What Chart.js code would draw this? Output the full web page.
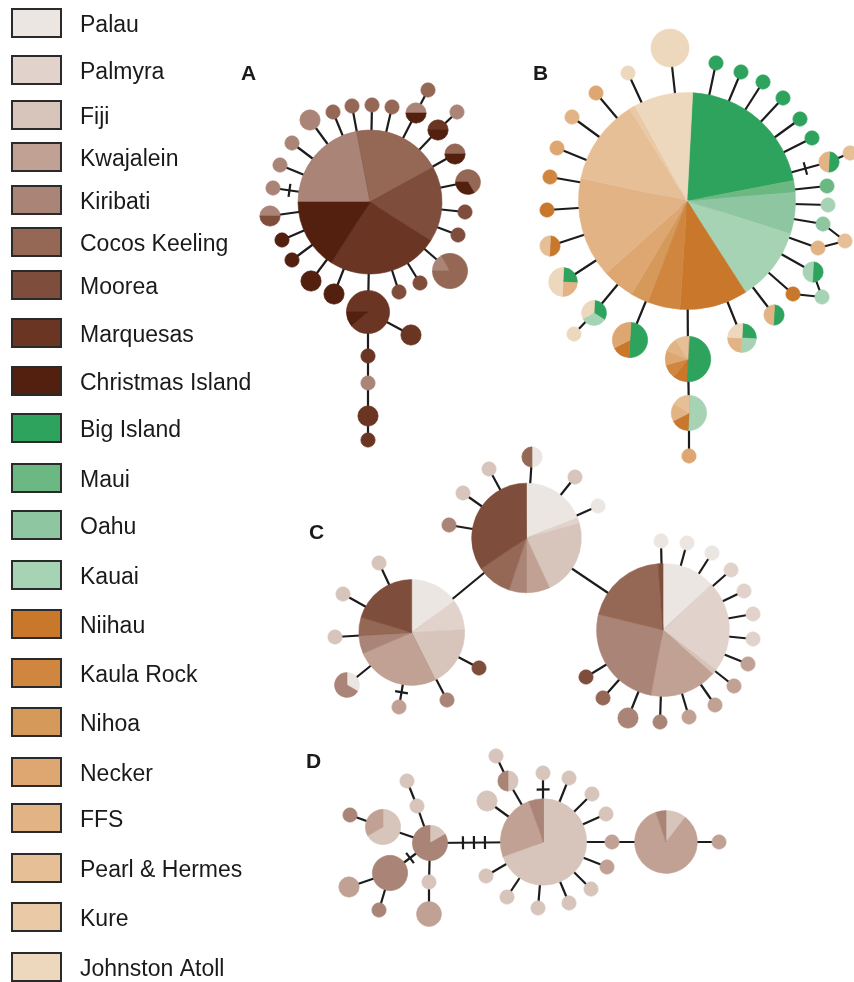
<!DOCTYPE html>
<html>
<head>
<meta charset="utf-8">
<script src="https://cdn.jsdelivr.net/npm/chart.js@4.4.1/dist/chart.umd.min.js"></script>
<style>
html, body { margin: 0; padding: 0; background: #fff; overflow: hidden; }
#chart { display: block; }
</style>
</head>
<body>
<canvas id="chart" width="854" height="982"></canvas>
<script>
// populations, legend order (slices follow this order too)
const popCodes = ['PAL','PMY','FIJ','KWA','KIR','COC','MOO','MAR','CHR','BIG','MAU','OAH','KAI','NII','KAR','NIH','NEC','FFS','PHR','KUR','JOH'];
const popNames = ['Palau','Palmyra','Fiji','Kwajalein','Kiribati','Cocos Keeling','Moorea','Marquesas','Christmas Island','Big Island','Maui','Oahu','Kauai','Niihau','Kaula Rock','Nihoa','Necker','FFS','Pearl & Hermes','Kure','Johnston Atoll'];
const popColors = ['#ebe6e2','#e1d3cc','#d7c5bb','#c1a193','#aa8476','#956755','#7e4d3b','#6a3523','#532010',
                   '#2ea35d','#6bb883','#8dc6a0','#a6d3b3',
                   '#c9772b','#d0863f','#d59a5a','#dea671','#e2b385','#e6bf97','#eac9a7','#eed8bd'];

// haplotypes: [id, x, y, individuals per population]
const nodesA = [
  ['A0', 370, 202, {KIR:22, COC:20, MOO:17, MAR:25, CHR:16}],
  ['A1', 273, 188, {KIR:1}], ['A2', 280, 165, {KIR:1}], ['A3', 292, 143, {KIR:1}],
  ['A4', 310, 120, {KIR:2}], ['A5', 333, 112, {COC:1}], ['A6', 352, 106, {COC:1}],
  ['A7', 372, 105, {COC:1}], ['A8', 392, 107, {COC:1}], ['A9', 416, 113, {KIR:1, CHR:1}],
  ['A10', 428, 90, {COC:1}], ['A11', 438, 130, {MAR:1, CHR:1}], ['A12', 457, 112, {KIR:1}],
  ['A13', 455, 154, {COC:1, CHR:1}], ['A14', 468, 182, {COC:2, CHR:1}], ['A15', 465, 212, {MOO:1}],
  ['A16', 458, 235, {MOO:1}], ['A17', 450, 271, {KIR:1, COC:5}], ['A18', 420, 283, {MOO:1}],
  ['A19', 399, 292, {MOO:1}], ['A20', 368, 312, {MAR:8, CHR:1}], ['A21', 411, 335, {MAR:2}],
  ['A22', 368, 356, {MAR:1}], ['A23', 368, 383, {KIR:1}], ['A24', 368, 416, {MAR:2}],
  ['A25', 368, 440, {MAR:1}], ['A26', 334, 294, {CHR:2}], ['A27', 311, 281, {CHR:2}],
  ['A28', 292, 260, {CHR:1}], ['A29', 282, 240, {CHR:1}], ['A30', 270, 216, {KIR:1, MOO:1}]
];
const edgesA = [
  ['A0','A1',1], ['A0','A2'], ['A0','A3'], ['A0','A4'], ['A0','A5'], ['A0','A6'], ['A0','A7'], ['A0','A8'],
  ['A0','A9'], ['A9','A10'], ['A0','A11'], ['A11','A12'], ['A0','A13'], ['A0','A14'], ['A0','A15'],
  ['A0','A16'], ['A0','A17'], ['A0','A18'], ['A0','A19'], ['A0','A20'], ['A20','A21'], ['A20','A22'],
  ['A22','A23'], ['A23','A24'], ['A24','A25'], ['A0','A26'], ['A0','A27'], ['A0','A28'], ['A0','A29'], ['A0','A30']
];

const nodesB = [
  ['B0', 687, 201, {BIG:48, MAU:4, OAH:14, KAI:25, NII:23, KAR:11, NIH:6, NEC:11, FFS:34, PHR:29, KUR:2, JOH:20}],
  ['B1', 670, 48, {JOH:7}], ['B2', 628, 73, {JOH:1}], ['B3', 596, 93, {NEC:1}], ['B4', 572, 117, {FFS:1}],
  ['B5', 557, 148, {NEC:1}], ['B6', 550, 177, {KAR:1}], ['B7', 547, 210, {NII:1}], ['B8', 550, 246, {NII:1, PHR:1}],
  ['B9', 563, 282, {BIG:1, FFS:1, JOH:2}], ['B10', 716, 63, {BIG:1}], ['B11', 741, 72, {BIG:1}],
  ['B12', 763, 82, {BIG:1}], ['B13', 783, 98, {BIG:1}], ['B14', 800, 119, {BIG:1}], ['B15', 812, 138, {BIG:1}],
  ['B16', 829, 162, {BIG:1, FFS:1}], ['B17', 850, 153, {PHR:1}], ['B18', 827, 186, {MAU:1}],
  ['B19', 828, 205, {KAI:1}], ['B20', 823, 224, {OAH:1}], ['B21', 845, 241, {PHR:1}], ['B22', 818, 248, {FFS:1}],
  ['B23', 813, 272, {BIG:1, KAI:1}], ['B24', 793, 294, {NII:1}], ['B25', 822, 297, {KAI:1}],
  ['B26', 594, 313, {BIG:1, KAI:1, JOH:1}], ['B27', 574, 334, {JOH:1}], ['B28', 630, 340, {BIG:3, NII:1, NEC:2}],
  ['B29', 688, 359, {BIG:5, NII:1, KAR:1, NEC:1, FFS:1, PHR:1}], ['B30', 689, 413, {KAI:3, NII:1, FFS:1, PHR:1}],
  ['B31', 689, 456, {NEC:1}], ['B32', 742, 338, {BIG:1, KAI:1, FFS:1, JOH:1}], ['B33', 774, 315, {BIG:1, FFS:1}]
];
const edgesB = [
  ['B0','B1'], ['B0','B2'], ['B0','B3'], ['B0','B4'], ['B0','B5'], ['B0','B6'], ['B0','B7'], ['B0','B8'], ['B0','B9'],
  ['B0','B10'], ['B0','B11'], ['B0','B12'], ['B0','B13'], ['B0','B14'], ['B0','B15'], ['B0','B16',1], ['B16','B17'],
  ['B0','B18'], ['B0','B19'], ['B0','B20'], ['B20','B21'], ['B0','B22'], ['B22','B21'], ['B0','B23'], ['B23','B25'],
  ['B0','B24'], ['B24','B25'], ['B0','B26'], ['B26','B27'], ['B0','B28'], ['B0','B29'], ['B29','B30'], ['B30','B31'],
  ['B0','B32'], ['B0','B33']
];

const nodesC = [
  ['C0', 526.5, 538, {PAL:11, PMY:1, FIJ:13, KWA:4, KIR:3, COC:6, MOO:20}],
  ['C1', 411.7, 632.5, {PAL:8, PMY:5, FIJ:10, KWA:14, KIR:3, COC:3, MOO:11}],
  ['C2', 663, 630, {PAL:11, PMY:19, FIJ:1, KWA:14, KIR:22, COC:17, MOO:1}],
  ['C3', 532, 457, {PAL:1, COC:1}], ['C4', 489, 469, {FIJ:1}], ['C5', 463, 493, {FIJ:1}], ['C6', 449, 525, {KIR:1}],
  ['C7', 575, 477, {FIJ:1}], ['C8', 598, 506, {PAL:1}],
  ['C9', 379, 563, {FIJ:1}], ['C10', 343, 594, {FIJ:1}], ['C11', 335, 637, {FIJ:1}], ['C12', 347, 685, {PAL:1, KIR:2}],
  ['C13', 399, 707, {KWA:1}], ['C14', 447, 700, {KIR:1}], ['C15', 479, 668, {MOO:1}],
  ['C16', 661, 541, {PAL:1}], ['C17', 687, 543, {PAL:1}], ['C18', 712, 553, {PAL:1}], ['C19', 731, 570, {PMY:1}],
  ['C20', 744, 591, {PMY:1}], ['C21', 753, 614, {PMY:1}], ['C22', 753, 639, {PMY:1}], ['C23', 748, 664, {KWA:1}],
  ['C24', 734, 686, {KWA:1}], ['C25', 715, 705, {KWA:1}], ['C26', 689, 717, {KWA:1}], ['C27', 660, 722, {KIR:1}],
  ['C28', 628, 718, {KIR:2}], ['C29', 603, 698, {COC:1}], ['C30', 586, 677, {MOO:1}]
];
const edgesC = [
  ['C0','C1'], ['C0','C2'], ['C0','C3'], ['C0','C4'], ['C0','C5'], ['C0','C6'], ['C0','C7'], ['C0','C8'],
  ['C1','C9'], ['C1','C10'], ['C1','C11'], ['C1','C12'], ['C1','C13',1], ['C1','C14'], ['C1','C15'],
  ['C2','C16'], ['C2','C17'], ['C2','C18'], ['C2','C19'], ['C2','C20'], ['C2','C21'], ['C2','C22'], ['C2','C23'],
  ['C2','C24'], ['C2','C25'], ['C2','C26'], ['C2','C27'], ['C2','C28'], ['C2','C29'], ['C2','C30']
];

const nodesD = [
  ['D0', 543.5, 842, {FIJ:25, KWA:9, KIR:2}],
  ['D1', 543, 773, {FIJ:1}], ['D2', 569, 778, {FIJ:1}], ['D3', 592, 794, {FIJ:1}], ['D4', 508, 781, {FIJ:1, KIR:1}],
  ['D5', 496, 756, {FIJ:1}], ['D6', 487, 801, {FIJ:2}], ['D7', 486, 876, {FIJ:1}], ['D8', 507, 897, {FIJ:1}],
  ['D9', 538, 908, {FIJ:1}], ['D10', 569, 903, {FIJ:1}], ['D11', 591, 889, {FIJ:1}], ['D12', 606, 814, {FIJ:1}],
  ['D13', 612, 842, {KWA:1}], ['D14', 607, 867, {KWA:1}], ['D15', 666, 842, {FIJ:2, KWA:16, KIR:1}],
  ['D16', 719, 842, {KWA:1}], ['D17', 430, 843, {FIJ:1, KIR:5}], ['D18', 383, 827, {FIJ:4, KWA:2}],
  ['D19', 350, 815, {KIR:1}], ['D20', 417, 806, {FIJ:1}], ['D21', 407, 781, {FIJ:1}], ['D22', 390, 873, {KIR:6}],
  ['D23', 349, 887, {KWA:2}], ['D24', 379, 910, {KIR:1}], ['D25', 429, 882, {FIJ:1}], ['D26', 429, 914, {KWA:3}]
];
const edgesD = [
  ['D0','D1',1], ['D0','D2'], ['D0','D3'], ['D0','D4'], ['D4','D5'], ['D0','D6'], ['D0','D7'], ['D0','D8'],
  ['D0','D9'], ['D0','D10'], ['D0','D11'], ['D0','D12'], ['D0','D13'], ['D0','D14'], ['D13','D15'], ['D15','D16'],
  ['D17','D0',3], ['D17','D18'], ['D18','D19'], ['D17','D20'], ['D20','D21'], ['D17','D22',1], ['D22','D23'],
  ['D22','D24'], ['D17','D25'], ['D25','D26']
];

const panelLabels = ['A', 'B', 'C', 'D'];

// ---- layout bits (not data) ----
const R1 = 7.2;   // radius of a single-individual haplotype
const legendTops = [8,55,100,142,185,227,270,318,366,413,463,510,560,609,658,707,757,803,853,902,952];
const panelPos = [[241, 80], [533, 80], [309, 539], [306, 768]];
const pieStarts = [180, -87, -90, -90];

function total(c) { return Object.values(c).reduce((a, b) => a + b, 0); }

const allNodes = {};
[nodesA, nodesB, nodesC, nodesD].forEach(list => list.forEach(n => allNodes[n[0]] = n));
const allEdges = [].concat(edgesA, edgesB, edgesC, edgesD);

const datasets = [];
allEdges.forEach(e => {
  const a = allNodes[e[0]], b = allNodes[e[1]];
  datasets.push({
    type: 'line',
    data: [{x: a[1], y: a[2]}, {x: b[1], y: b[2]}],
    borderColor: '#1c1c1c',
    borderWidth: 2.2,
    pointRadius: 0,
    tension: 0,
    fill: false,
    order: 2
  });
});
[nodesA, nodesB, nodesC, nodesD].forEach((list, k) => {
  datasets.push({
    type: 'bubble',
    data: list.map(n => ({x: n[1], y: n[2], r: R1 * Math.sqrt(total(n[3]))})),
    counts: list.map(n => n[3]),
    pieStart: pieStarts[k],
    backgroundColor: 'rgba(0,0,0,0)',
    borderWidth: 0,
    order: 1
  });
});

const piePlugin = {
  id: 'pies',
  afterDatasetsDraw(chart) {
    const ctx = chart.ctx;
    ctx.save();
    chart.data.datasets.forEach((ds, di) => {
      if (!ds.counts) return;
      const meta = chart.getDatasetMeta(di);
      meta.data.forEach((el, i) => {
        const c = ds.counts[i];
        const tot = total(c);
        const r = el.options.radius;
        let a = ds.pieStart * Math.PI / 180;
        popCodes.forEach((code, k) => {
          const v = c[code];
          if (!v) return;
          const b = a + v / tot * Math.PI * 2;
          ctx.beginPath();
          if (v === tot) {
            ctx.arc(el.x, el.y, r, 0, Math.PI * 2);
          } else {
            ctx.moveTo(el.x, el.y);
            ctx.arc(el.x, el.y, r, a, b);
            ctx.closePath();
          }
          ctx.fillStyle = popColors[k];
          ctx.fill();
          ctx.strokeStyle = popColors[k];
          ctx.lineWidth = 0.6;
          ctx.stroke();
          a = b;
        });
      });
    });

    // mutation ticks across the edges
    const xs = chart.scales.x, ys = chart.scales.y;
    ctx.strokeStyle = '#1c1c1c';
    ctx.lineWidth = 2.2;
    allEdges.forEach(e => {
      const m = e[2] || 0;
      if (!m) return;
      const a = allNodes[e[0]], b = allNodes[e[1]];
      const ax = xs.getPixelForValue(a[1]), ay = ys.getPixelForValue(a[2]);
      const bx = xs.getPixelForValue(b[1]), by = ys.getPixelForValue(b[2]);
      const ra = R1 * Math.sqrt(total(a[3])), rb = R1 * Math.sqrt(total(b[3]));
      const len = Math.hypot(bx - ax, by - ay);
      const ux = (bx - ax) / len, uy = (by - ay) / len;
      const mid = (ra + len - rb) / 2;
      for (let k = 0; k < m; k++) {
        const d = mid + (k - (m - 1) / 2) * 11;
        const px = ax + ux * d, py = ay + uy * d;
        ctx.beginPath();
        ctx.moveTo(px - uy * 6.5, py + ux * 6.5);
        ctx.lineTo(px + uy * 6.5, py - ux * 6.5);
        ctx.stroke();
      }
    });
    ctx.restore();
  },
  afterDraw(chart) {
    const ctx = chart.ctx;
    ctx.save();
    ctx.textBaseline = 'alphabetic';
    ctx.font = '23px "Liberation Sans", Arial, sans-serif';
    popNames.forEach((name, k) => {
      const t = legendTops[k];
      ctx.fillStyle = popColors[k];
      ctx.fillRect(11, t, 51, 30);
      ctx.strokeStyle = '#2a2a2a';
      ctx.lineWidth = 2;
      ctx.strokeRect(12, t + 1, 49, 28);
      ctx.fillStyle = '#1a1a1a';
      ctx.fillText(name, 80, t + 23.5);
    });
    ctx.font = 'bold 21px "Liberation Sans", Arial, sans-serif';
    panelLabels.forEach((lab, k) => {
      ctx.fillText(lab, panelPos[k][0], panelPos[k][1]);
    });
    ctx.restore();
  }
};

const chart = new Chart(document.getElementById('chart'), {
  type: 'scatter',
  data: { datasets: datasets },
  options: {
    responsive: false,
    animation: false,
    devicePixelRatio: 1,
    events: [],
    layout: { padding: 0, autoPadding: false },
    scales: {
      x: { type: 'linear', min: 0, max: 854, display: false },
      y: { type: 'linear', min: 0, max: 982, reverse: true, display: false }
    },
    plugins: {
      legend: { display: false },
      tooltip: { enabled: false }
    }
  },
  plugins: [piePlugin]
});
</script>
</body>
</html>
